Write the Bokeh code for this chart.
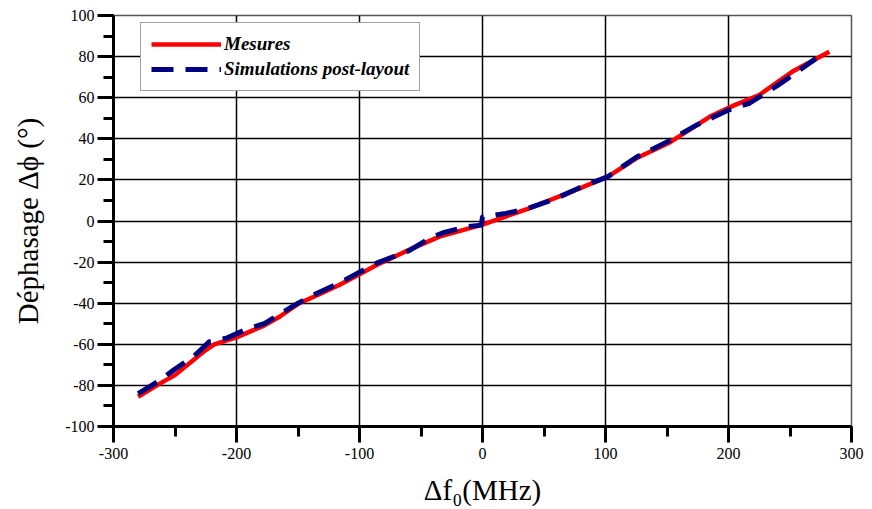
from bokeh.plotting import figure
from bokeh.models import (SingleIntervalTicker, Range1d, Legend, LegendItem,
                          CustomJSTickFormatter)
from bokeh.embed import file_html
from bokeh.resources import INLINE

# Mesures (measured phase shift, degrees) vs frequency offset (MHz)
x_mes = [-280, -262, -250, -225, -218, -200, -178, -165, -149, -134, -116, -86,
         -57, -35, 0, 38, 79, 102, 125, 151, 185, 205, 225, 252, 282]
y_mes = [-85.5, -79, -75, -62.8, -60, -56.6, -51, -46.6, -40, -36, -31, -21.4,
         -13.3, -7.6, -1.8, 6.2, 15.9, 21.6, 30.5, 37.8, 50.8, 56.4, 61.3, 72.7, 82.4]

# Simulations post-layout
x_sim = [-280, -262, -250, -235, -222, -208, -193, -177, -150, -134, -116, -86,
         -60, -43, -32, -13, -1, 0, 19, 35, 60, 80, 102, 125, 150, 175, 200,
         217, 240, 271]
y_sim = [-84, -77.5, -72, -66, -58.7, -57, -53, -49.8, -40, -35, -30, -20.5,
         -14.5, -8.4, -5.7, -2.8, -2, 2, 3.7, 5.7, 11, 16.5, 21.6, 31, 38.5, 47, 54,
         57.3, 66, 79]

x_label = "Δf₀(MHz)"
y_label = "Déphasage Δϕ (°)"
series_names = ["Mesures", "Simulations post-layout"]

FONT = "Liberation Serif"

p = figure(width=872, height=509, output_backend="svg", toolbar_location=None,
           x_range=Range1d(-300, 300), y_range=Range1d(-100, 100),
           min_border_left=113, min_border_right=21, min_border_top=15,
           min_border_bottom=83)

p.background_fill_color = "white"
p.border_fill_color = "white"
p.outline_line_color = "#555555"
p.outline_line_width = 1.5

p.xaxis.ticker = SingleIntervalTicker(interval=100, num_minor_ticks=2)
p.yaxis.ticker = SingleIntervalTicker(interval=20, num_minor_ticks=2)

for ax in p.axis:
    ax.formatter = CustomJSTickFormatter(code="return String(tick);")
    ax.axis_line_color = "black"
    ax.axis_line_width = 3
    ax.major_tick_in = 0
    ax.major_tick_out = 16
    ax.minor_tick_in = 0
    ax.minor_tick_out = 10
    ax.major_tick_line_width = 3
    ax.minor_tick_line_width = 3
    ax.major_tick_line_color = "black"
    ax.minor_tick_line_color = "black"
    ax.major_label_text_font = FONT
    ax.major_label_text_font_size = "16px"
    ax.major_label_text_color = "black"
    ax.axis_label_text_font = FONT
    ax.axis_label_text_font_size = "29px"
    ax.axis_label_text_font_style = "normal"
    ax.axis_label_text_color = "black"

p.xaxis.major_label_standoff = 5
p.yaxis.major_label_standoff = 3
p.xaxis.axis_label = x_label
p.yaxis.axis_label = y_label
p.xaxis.axis_label_standoff = 12
p.yaxis.axis_label_standoff = 18

p.grid.grid_line_color = "black"
p.grid.grid_line_width = 1.5

r_mes = p.line(x_mes, y_mes, line_color="#FF0000", line_width=4.5,
               line_join="round")
r_sim = p.line(x_sim, y_sim, line_color="#000080", line_width=5,
               line_dash="22 12", line_join="round")

legend = Legend(items=[LegendItem(label=series_names[0], renderers=[r_mes]),
                       LegendItem(label=series_names[1], renderers=[r_sim])],
                location=(27, 335))
legend.label_text_font = FONT
legend.label_text_font_style = "bold italic"
legend.label_text_font_size = "19px"
legend.label_text_color = "black"
legend.glyph_width = 70
legend.glyph_height = 20
legend.label_standoff = 3
legend.spacing = 3
legend.padding = 10
legend.margin = 0
legend.border_line_color = "#444444"
legend.border_line_width = 1.5
legend.background_fill_color = "white"
legend.background_fill_alpha = 1.0
p.add_layout(legend)

open("out.html", "w").write(file_html(p, INLINE))
